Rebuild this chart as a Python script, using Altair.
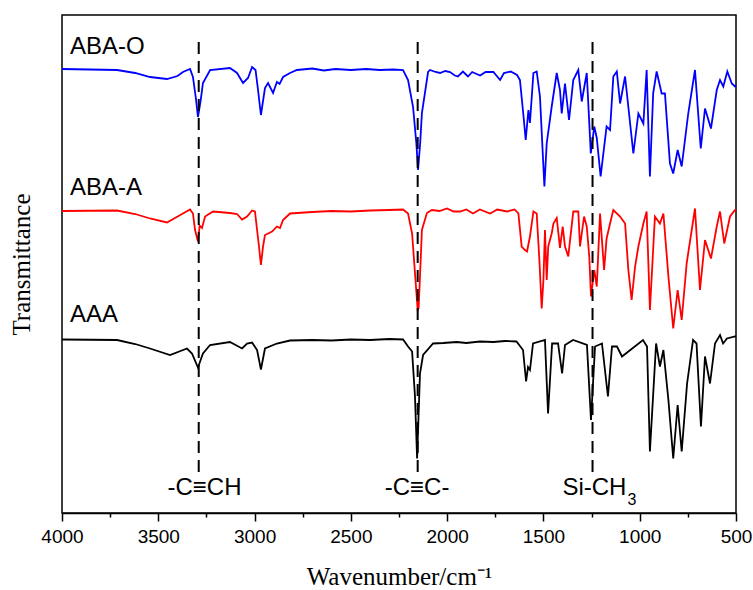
import altair as alt
import pandas as pd

# ---- data (wavenumber cm^-1, offset transmittance a.u.) ----
aba_o_wn = [4000, 3714, 3620, 3543, 3455, 3400, 3372, 3335, 3320, 3305, 3294, 3280, 3268, 3231, 3128,
            3091, 3060, 3034, 3013, 2995, 2982, 2967, 2946, 2930, 2904, 2884, 2870, 2852, 2816, 2780,
            2700, 2640, 2580, 2500, 2420, 2350, 2280, 2229, 2203, 2177, 2160, 2151, 2140, 2131, 2099,
            2089, 2060, 2037, 2010, 1985, 1960, 1944, 1918, 1892, 1870, 1829, 1800, 1760, 1725, 1705,
            1670, 1637, 1622, 1605, 1592, 1578, 1570, 1552, 1535, 1518, 1495, 1483, 1457, 1431, 1414,
            1405, 1388, 1367, 1345, 1319, 1301, 1275, 1254, 1236, 1223, 1203, 1172, 1154, 1137, 1119,
            1102, 1076, 1033, 1007, 981, 964, 947, 930, 912, 886, 869, 843, 826, 803, 782, 748, 713,
            683, 661, 630, 600, 583, 566, 545, 522, 505, 500]
aba_o_t = [94.8, 94.6, 94.0, 93.2, 92.8, 93.4, 94.2, 94.8, 93.2, 89.0, 85.2, 88.5, 92.0, 94.6, 95.0,
           94.0, 92.0, 93.0, 95.2, 94.6, 90.6, 85.6, 91.0, 92.0, 90.0, 92.2, 91.8, 93.2, 94.0, 94.6,
           94.9, 94.5, 94.8, 94.6, 94.8, 94.6, 94.7, 94.6, 92.6, 87.2, 80.0, 74.6, 80.0, 86.0, 94.2,
           94.6, 94.2, 94.0, 94.4, 94.2, 93.5, 93.3, 94.3, 93.3, 94.2, 93.5, 94.2, 94.2, 92.6, 94.0,
           94.3, 93.6, 92.6, 86.0, 80.6, 86.6, 84.0, 94.0, 94.3, 89.3, 71.3, 79.9, 87.3, 94.0, 90.6,
           85.9, 91.9, 84.6, 92.6, 94.6, 88.3, 94.0, 77.9, 83.3, 81.0, 73.3, 83.3, 82.6, 93.3, 94.3,
           87.9, 93.3, 77.9, 85.9, 83.9, 94.6, 73.3, 90.0, 94.3, 89.9, 89.9, 75.9, 73.9, 78.6, 75.3,
           85.9, 94.6, 78.9, 86.9, 82.9, 90.6, 92.6, 91.3, 94.3, 91.9, 91.3, 91.5]

aba_a_wn = [4000, 3714, 3620, 3543, 3455, 3372, 3335, 3320, 3309, 3294, 3285, 3273, 3257, 3216, 3128,
            3091, 3065, 3039, 3013, 2998, 2987, 2977, 2967, 2956, 2946, 2909, 2884, 2868, 2852, 2816,
            2700, 2600, 2500, 2400, 2300, 2229, 2203, 2182, 2167, 2153, 2148, 2141, 2131, 2105, 2079,
            2040, 2001, 1966, 1933, 1900, 1866, 1830, 1777, 1740, 1689, 1650, 1630, 1613, 1596, 1585,
            1570, 1552, 1535, 1521, 1509, 1500, 1492, 1483, 1475, 1457, 1448, 1431, 1414, 1400, 1388,
            1371, 1345, 1319, 1310, 1289, 1275, 1262, 1253, 1236, 1223, 1206, 1185, 1172, 1154, 1137,
            1102, 1076, 1059, 1042, 1024, 1007, 981, 964, 947, 921, 895, 877, 851, 826, 803, 782,
            756, 713, 687, 661, 630, 600, 583, 561, 531, 505, 500]
aba_a_t = [66.4, 66.5, 65.8, 64.9, 64.1, 65.9, 66.7, 65.9, 62.6, 60.3, 63.5, 63.0, 65.3, 66.3, 66.0,
           65.8, 64.7, 65.3, 66.5, 66.3, 62.6, 59.3, 55.6, 59.3, 61.6, 62.3, 63.3, 63.0, 64.6, 65.9,
           66.2, 66.4, 66.3, 66.5, 66.6, 66.7, 65.9, 61.9, 54.0, 46.6, 47.0, 53.3, 62.6, 66.0, 66.6,
           66.4, 66.9, 66.3, 66.3, 66.7, 65.9, 66.7, 65.9, 66.7, 66.3, 66.7, 65.9, 59.3, 58.6, 58.3,
           61.3, 66.3, 65.9, 56.6, 46.9, 52.6, 62.6, 52.6, 59.3, 61.9, 63.9, 65.0, 59.0, 63.3, 59.3,
           57.3, 66.3, 66.3, 59.3, 65.3, 63.3, 57.3, 49.3, 54.6, 51.3, 65.9, 54.6, 60.9, 63.9, 66.6,
           65.3, 63.9, 54.6, 48.6, 55.3, 59.3, 63.9, 66.3, 46.6, 65.3, 63.9, 65.9, 53.3, 42.9, 50.6,
           44.6, 56.0, 66.9, 50.6, 60.6, 56.9, 63.3, 66.3, 59.9, 65.3, 66.6, 66.7]

aaa_wn = [4000, 3714, 3620, 3543, 3439, 3351, 3325, 3294, 3268, 3231, 3128, 3065, 3039, 3013, 2987,
          2967, 2946, 2884, 2816, 2700, 2600, 2500, 2400, 2300, 2229, 2203, 2182, 2167, 2156, 2141,
          2125, 2073, 2020, 1950, 1900, 1830, 1760, 1700, 1640, 1606, 1590, 1580, 1570, 1554, 1492,
          1476, 1455, 1424, 1403, 1388, 1346, 1274, 1253, 1232, 1196, 1165, 1144, 1118, 1092, 983,
          962, 947, 915, 895, 877, 851, 826, 803, 782, 754, 723, 705, 682, 661, 635, 609, 583, 567,
          547, 505, 500]
aaa_t = [40.7, 40.6, 39.8, 38.9, 37.6, 38.9, 37.9, 35.1, 37.9, 39.6, 40.2, 38.9, 39.9, 40.1, 38.6,
         34.7, 38.9, 39.9, 40.5, 40.6, 40.5, 40.7, 40.6, 40.8, 40.7, 39.3, 38.3, 29.3, 16.9, 33.9,
         37.6, 39.9, 40.0, 40.2, 40.0, 40.3, 40.2, 40.4, 40.3, 38.6, 32.3, 35.2, 34.6, 39.9, 40.6,
         25.9, 39.9, 39.9, 33.9, 39.6, 40.6, 39.6, 24.6, 39.3, 39.9, 29.3, 39.3, 39.3, 37.3, 40.6,
         39.3, 18.3, 39.9, 35.3, 38.6, 28.6, 16.9, 27.6, 18.3, 31.9, 40.6, 39.9, 23.3, 37.3, 31.9,
         39.9, 41.6, 39.9, 40.9, 41.3, 41.3]

series_names = ["ABA-O", "ABA-A", "AAA"]
series_colors = ["#0000ff", "#ff0000", "#000000"]
label_wn = [3958, 3958, 3958]
label_t = [99.2, 71.0, 45.6]

peak_wn = [3290, 2153, 1245]
dash_top = [100.6, 100.6, 100.6]
dash_bottom = [14.2, 14.2, 14.2]

ann_text = ["-C\u2261CH", "-C\u2261C-", "Si-CH"]
ann_wn = [3260, 2156, 1235]
ann_t = [11.0, 11.0, 11.0]
sub_text = ["3"]
sub_wn = [1040]
sub_t = [8.6]

tick_values = list(range(4000, 499, -250))

# ---- tables ----
rows = []
for name, wn, t in [("ABA-O", aba_o_wn, aba_o_t), ("ABA-A", aba_a_wn, aba_a_t), ("AAA", aaa_wn, aaa_t)]:
    for w, v in zip(wn, t):
        rows.append({"series": name, "wn": w, "t": v})
spec = pd.DataFrame(rows)
labels = pd.DataFrame({"series": series_names, "wn": label_wn, "t": label_t})
dashes = pd.DataFrame({"wn": peak_wn, "t1": dash_bottom, "t2": dash_top})
ann = pd.DataFrame({"text": ann_text, "wn": ann_wn, "t": ann_t})
sub = pd.DataFrame({"text": sub_text, "wn": sub_wn, "t": sub_t})

xscale = alt.Scale(domain=[500, 4000], reverse=True, nice=False, zero=False)
yscale = alt.Scale(domain=[6, 105.6], nice=False, zero=False)

xaxis = alt.Axis(
    values=tick_values,
    labelExpr="datum.value % 500 === 0 ? format(datum.value, 'd') : ''",
    tickSize={"condition": {"test": "datum.value % 500 !== 0", "value": 4}, "value": 8},
    tickColor="black", tickWidth=1.5, domainColor="black", domainWidth=1.5,
    labelFont="Liberation Sans", labelFontSize=19, labelColor="black", labelPadding=6,
    grid=False, title="Wavenumber/cm\u207b\u00b9", titleFont="Liberation Serif",
    titleFontSize=25, titleFontWeight="normal", titleColor="black", titlePadding=18,
    labelFlush=False, labelOverlap=False,
)
yaxis = alt.Axis(
    labels=False, ticks=False, domain=False, grid=False, title="Transmittance",
    titleFont="Liberation Serif", titleFontSize=25, titleFontWeight="normal",
    titleColor="black", titlePadding=28,
)

lines = alt.Chart(spec).mark_line(strokeWidth=1.8).encode(
    x=alt.X("wn:Q", scale=xscale, axis=xaxis),
    y=alt.Y("t:Q", scale=yscale, axis=yaxis),
    color=alt.Color("series:N", scale=alt.Scale(domain=series_names, range=series_colors), legend=None),
    order=alt.Order("wn:Q"),
)

rules = alt.Chart(dashes).mark_rule(color="black", strokeWidth=2, strokeDash=[12, 7]).encode(
    x=alt.X("wn:Q", scale=xscale),
    y=alt.Y("t1:Q", scale=yscale),
    y2="t2:Q",
)

series_text = alt.Chart(labels).mark_text(
    align="left", baseline="middle", font="Liberation Sans", fontSize=24, color="black"
).encode(x=alt.X("wn:Q", scale=xscale), y=alt.Y("t:Q", scale=yscale), text="series:N")

ann_marks = alt.Chart(ann).mark_text(
    align="center", baseline="middle", font="Liberation Sans", fontSize=24, color="black"
).encode(x=alt.X("wn:Q", scale=xscale), y=alt.Y("t:Q", scale=yscale), text="text:N")

sub_marks = alt.Chart(sub).mark_text(
    align="center", baseline="middle", font="Liberation Sans", fontSize=16, color="black"
).encode(x=alt.X("wn:Q", scale=xscale), y=alt.Y("t:Q", scale=yscale), text="text:N")

chart = alt.layer(lines, rules, series_text, ann_marks, sub_marks).properties(
    width=674, height=498,
    autosize=alt.AutoSizeParams(type="none"),
    padding={"left": 62, "top": 15, "right": 17, "bottom": 77},
    background="white",
).configure_view(stroke="black", strokeWidth=1.5)

chart.save("out.html", embed_options={"renderer": "svg", "actions": False})
